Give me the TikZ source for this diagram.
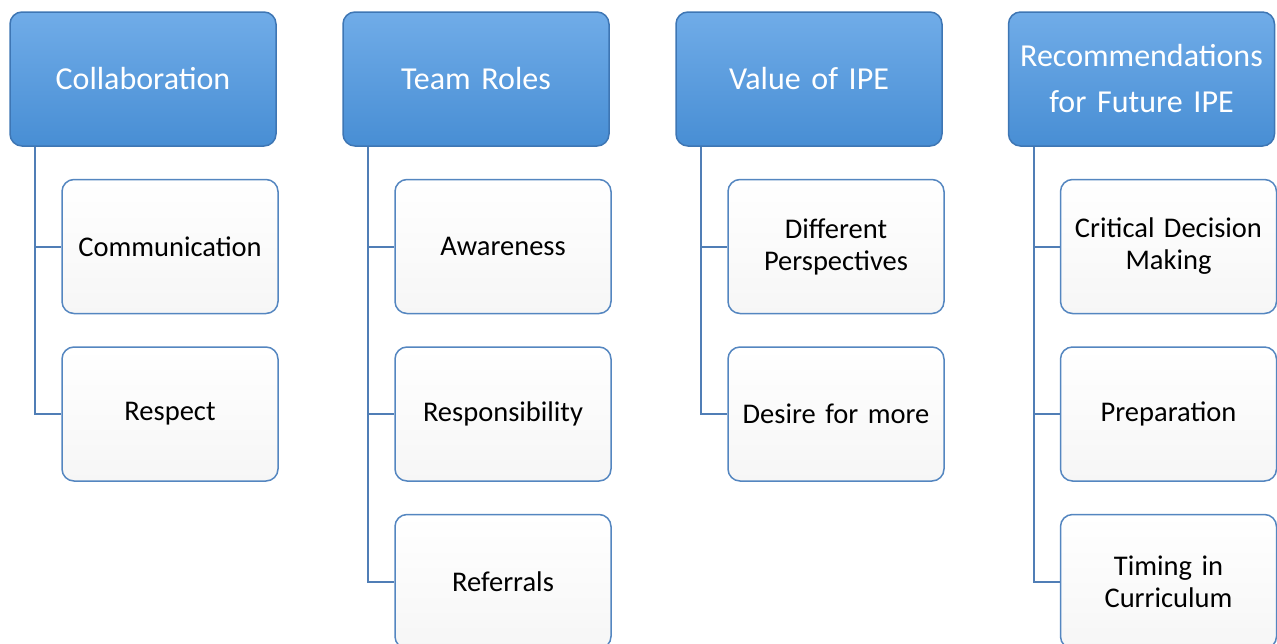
\documentclass[tikz,border=0pt]{standalone}
\usepackage{fontspec}
\setmainfont{Carlito}
\usetikzlibrary{positioning}
\definecolor{cHeadTop} {RGB}{112,172,232}
\definecolor{cHeadBot} {RGB}{72,142,212}
\definecolor{cHeadLine}{RGB}{62,118,180}
\definecolor{cItemLine}{RGB}{84,134,192}
\definecolor{cLink}    {RGB}{80,126,182}
\tikzset{
  head/.style={draw=cHeadLine,line width=1.5pt,rounded corners=12pt,
               top color=cHeadTop,bottom color=cHeadBot,
               minimum width=266pt,minimum height=134pt,text width=256pt,
               align=center,inner sep=0pt,text=white,
               font=\fontsize{32}{46}\selectfont},
  item/.style={draw=cItemLine,line width=1.5pt,rounded corners=12pt,
               top color=white,bottom color=gray!7,
               minimum width=216pt,minimum height=134pt,text width=206pt,
               align=center,inner sep=0pt,
               font=\fontsize{28.5}{32}\selectfont},
  link/.style={cLink,line width=2pt},
}

\begin{document}
\begin{tikzpicture}[x=1pt,y=1pt]
  \useasboundingbox (0,0) rectangle (1277,-643);
  % top row of headings
  \node[head] (hCollab) at (143,-79)    {Collaboration};
  \node[head] (hRoles)  at (476,-79)    {Team Roles};
  \node[head] (hValue)  at (809,-79)    {Value of IPE};
  \node[head] (hFuture) at (1141.5,-79) {Recommendations\\for Future IPE};
  % items hang below each heading, 52pt in, 32pt apart
  \node[item,anchor=north west] (cCollab1) at ([shift={(52,-32)}]hCollab.south west) {Communication};
  \node[item,below=32pt of cCollab1] (cCollab2) {Respect};
  \node[item,anchor=north west] (cRoles1) at ([shift={(52,-32)}]hRoles.south west) {Awareness};
  \node[item,below=32pt of cRoles1] (cRoles2) {Responsibility};
  \node[item,below=32pt of cRoles2] (cRoles3) {Referrals};
  \node[item,anchor=north west] (cValue1) at ([shift={(52,-32)}]hValue.south west) {Different\\Perspectives};
  \node[item,below=32pt of cValue1] (cValue2) {Desire for more};
  \node[item,anchor=north west] (cFuture1) at ([shift={(52,-32)}]hFuture.south west) {Critical Decision\\Making};
  \node[item,below=32pt of cFuture1] (cFuture2) {Preparation};
  \node[item,below=32pt of cFuture2] (cFuture3) {Timing in\\Curriculum};
  % elbow links from heading to items
  \foreach \h/\c in {hCollab/cCollab1,hCollab/cCollab2,
                     hRoles/cRoles1,hRoles/cRoles2,hRoles/cRoles3,
                     hValue/cValue1,hValue/cValue2,
                     hFuture/cFuture1,hFuture/cFuture2,hFuture/cFuture3}
    \draw[link] (\h.south west) ++(26,0) |- (\c.west);
\end{tikzpicture}
\end{document}
